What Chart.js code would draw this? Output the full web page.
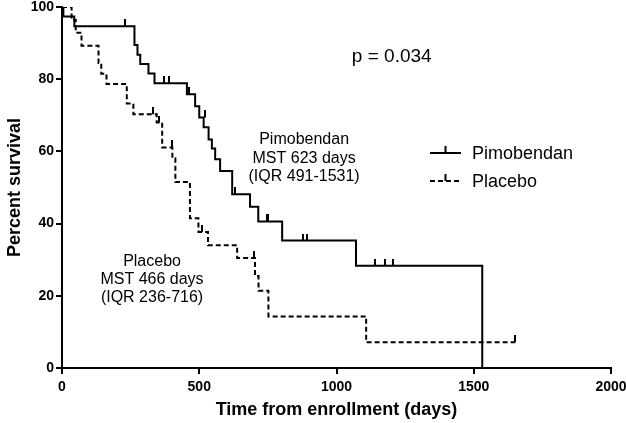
<!DOCTYPE html>
<html>
<head>
<meta charset="utf-8">
<script src="https://cdn.jsdelivr.net/npm/chart.js@4/dist/chart.umd.min.js"></script>
<style>
  html, body { margin: 0; padding: 0; background: #fff; }
  #wrap { width: 626px; height: 423px; }
</style>
</head>
<body>
<div id="wrap"><canvas id="km-chart" width="626" height="423"></canvas></div>
<script>
// Kaplan-Meier steps: day of event, survival (%) after the event
const pimoDays = [0, 5, 45, 264, 275, 285, 315, 337, 455, 485, 500, 516, 534, 546, 558, 576, 620, 685, 715, 802, 1071, 1531];
const pimoSurv = [100, 97.4, 94.7, 89.5, 86.8, 84.2, 81.6, 78.9, 75.8, 72.5, 69.4, 66.7, 63.3, 60.8, 57.8, 54.6, 48.1, 44.7, 40.6, 35.3, 28.3, 0];
const pimoCensorDays = [231, 370, 391, 461, 522, 632, 745, 752, 878, 893, 1140, 1176, 1205];
const pimoCensorSurv = [94.7, 78.9, 78.9, 75.8, 69.4, 48.1, 40.6, 40.6, 35.3, 35.3, 28.3, 28.3, 28.3];

const placDays = [0, 35, 50, 71, 133, 143, 162, 236, 260, 345, 365, 402, 413, 466, 497, 532, 638, 703, 716, 752, 1108, 1650];
const placSurv = [100, 96.4, 92.9, 89.3, 84.5, 81.5, 78.7, 73.3, 70.3, 68.0, 61.1, 58.1, 51.5, 41.5, 37.7, 34.0, 30.5, 25.5, 21.4, 14.3, 7.1, 7.1];
const placCensorDays = [333, 355, 402, 510, 700, 1650];
const placCensorSurv = [70.3, 68.0, 61.1, 37.7, 30.5, 7.1];

const xMax = 2000;
const yMax = 100;

const FONT = 'Arial, "Liberation Sans", sans-serif';

// tick mark drawn above the curve (censored observation)
function makeCensorMark() {
    const c = document.createElement('canvas');
    c.width = 2;
    c.height = 14;
    const g = c.getContext('2d');
    g.fillStyle = '#000';
    g.fillRect(0, 0, 2, 7);
    return c;
}
const censorMark = makeCensorMark();

function toPoints(xs, ys) {
    return xs.map((x, i) => ({ x: x, y: ys[i] }));
}

// annotations + legend drawn onto the chart
const annotationPlugin = {
    id: 'kmAnnotations',
    afterDraw(chart) {
        const { ctx, scales: { x, y } } = chart;
        ctx.save();
        ctx.fillStyle = '#000';
        ctx.textBaseline = 'middle';

        ctx.textAlign = 'left';
        ctx.font = '19px ' + FONT;
        ctx.fillText('p = 0.034', x.getPixelForValue(1056), y.getPixelForValue(86.2));

        ctx.textAlign = 'center';
        ctx.font = '16px ' + FONT;
        const pimoX = x.getPixelForValue(882);
        ctx.fillText('Pimobendan', pimoX, y.getPixelForValue(63.2));
        ctx.fillText('MST 623 days', pimoX, y.getPixelForValue(58.0));
        ctx.fillText('(IQR 491-1531)', pimoX, y.getPixelForValue(52.9));

        const placX = x.getPixelForValue(328);
        ctx.fillText('Placebo', placX, y.getPixelForValue(29.6));
        ctx.fillText('MST 466 days', placX, y.getPixelForValue(24.5));
        ctx.fillText('(IQR 236-716)', placX, y.getPixelForValue(19.4));

        // legend
        const lx0 = 430, lx1 = 461;
        const rows = [
            { label: 'Pimobendan', y: 153, dash: [] },
            { label: 'Placebo', y: 181, dash: [5, 3] }
        ];
        ctx.textAlign = 'left';
        ctx.font = '18px ' + FONT;
        ctx.strokeStyle = '#000';
        ctx.lineWidth = 2;
        rows.forEach(r => {
            ctx.setLineDash(r.dash);
            ctx.beginPath();
            ctx.moveTo(lx0, r.y);
            ctx.lineTo(lx1, r.y);
            ctx.stroke();
            ctx.setLineDash([]);
            ctx.fillRect((lx0 + lx1) / 2 - 1, r.y - 7, 2, 7);
            ctx.fillText(r.label, 472, r.y + 1);
        });
        ctx.restore();
    }
};

const canvas = document.getElementById('km-chart');

new Chart(canvas, {
    type: 'line',
    data: {
        datasets: [
            {
                label: 'Pimobendan',
                data: toPoints(pimoDays, pimoSurv),
                stepped: true,
                borderColor: '#000',
                borderWidth: 2,
                pointRadius: 0,
                fill: false
            },
            {
                label: 'Placebo',
                data: toPoints(placDays, placSurv),
                stepped: true,
                borderColor: '#000',
                borderWidth: 2,
                borderDash: [5, 3],
                pointRadius: 0,
                fill: false
            },
            {
                label: 'Pimobendan censored',
                data: toPoints(pimoCensorDays, pimoCensorSurv),
                showLine: false,
                pointStyle: censorMark,
                pointRadius: 3
            },
            {
                label: 'Placebo censored',
                data: toPoints(placCensorDays, placCensorSurv),
                showLine: false,
                pointStyle: censorMark,
                pointRadius: 3
            }
        ]
    },
    options: {
        responsive: false,
        animation: false,
        layout: { padding: { top: 7, right: 15, left: 0, bottom: 0 } },
        plugins: {
            legend: { display: false },
            tooltip: { enabled: false }
        },
        scales: {
            x: {
                type: 'linear',
                min: 0,
                max: xMax,
                afterFit(scale) {
                    scale.height = 55;
                    scale.paddingLeft = 0;
                    scale.paddingRight = 0;
                },
                ticks: {
                    stepSize: 500,
                    color: '#000',
                    padding: 5,
                    font: { family: FONT, size: 14, weight: 'bold' },
                    callback: (value) => String(value)
                },
                grid: {
                    drawOnChartArea: false,
                    drawTicks: true,
                    tickLength: 6,
                    color: '#000',
                    lineWidth: 2
                },
                border: { display: true, color: '#000', width: 2 },
                title: {
                    display: true,
                    text: 'Time from enrollment (days)',
                    color: '#000',
                    padding: { top: 0, bottom: 2 },
                    font: { family: FONT, size: 18, weight: 'bold' }
                }
            },
            y: {
                min: 0,
                max: yMax,
                afterFit(scale) {
                    scale.width = 62;
                    scale.paddingTop = 0;
                    scale.paddingBottom = 0;
                },
                ticks: {
                    stepSize: 20,
                    color: '#000',
                    padding: 2,
                    font: { family: FONT, size: 14, weight: 'bold' },
                    callback: (value) => String(value)
                },
                grid: {
                    drawOnChartArea: false,
                    drawTicks: true,
                    tickLength: 6,
                    color: '#000',
                    lineWidth: 2
                },
                border: { display: true, color: '#000', width: 2 },
                title: {
                    display: true,
                    text: 'Percent survival',
                    color: '#000',
                    padding: { top: 4, bottom: 0 },
                    font: { family: FONT, size: 18, weight: 'bold' }
                }
            }
        }
    },
    plugins: [annotationPlugin]
});
</script>
</body>
</html>
